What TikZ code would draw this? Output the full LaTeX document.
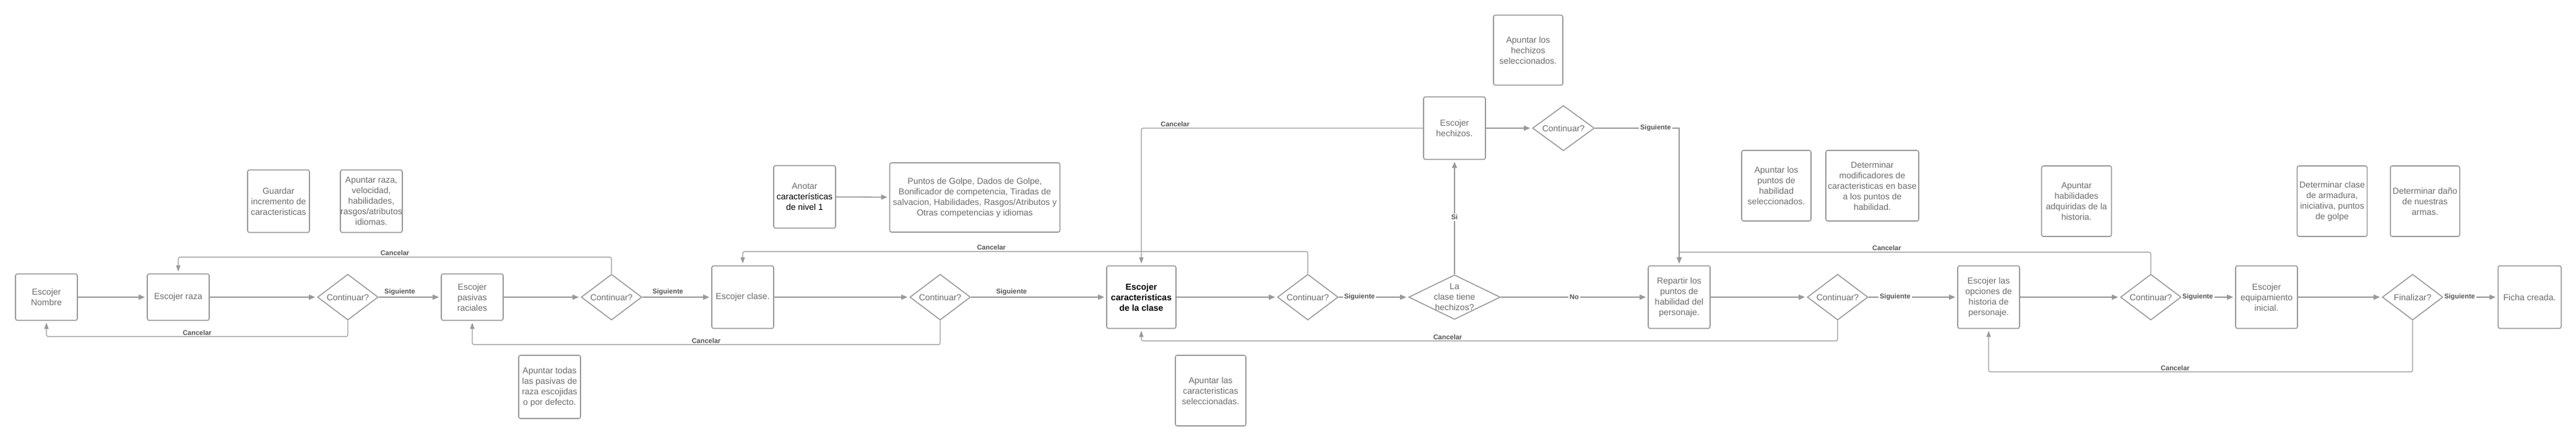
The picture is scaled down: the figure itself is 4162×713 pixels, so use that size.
\documentclass[tikz,border=0pt]{standalone}
\usepackage{fontspec}
\setmainfont{Liberation Sans}
\usepackage{xcolor}
\definecolor{mygray}{rgb}{0.6,0.6,0.6}
\definecolor{mytext}{rgb}{0.42,0.42,0.42}
\definecolor{mylabel}{rgb}{0.33,0.33,0.33}
\usetikzlibrary{shapes.geometric,arrows.meta,positioning}

\begin{document}
\begin{tikzpicture}[x=1pt,y=-1pt,
        caja/.style={draw=mygray,line width=1.6pt,rounded corners=3pt,inner sep=0pt,align=center,text=mytext,font=\fontsize{14}{17}\selectfont,minimum width=100pt,minimum height=101pt},
        rombo/.style={diamond,aspect=1.4,draw=mygray,line width=1.6pt,inner sep=0pt,align=center,text=mytext,font=\fontsize{14}{17}\selectfont,minimum width=98pt,minimum height=74pt},
        flecha/.style={draw=mygray,line width=1.8pt,-{Triangle[length=10pt,width=8pt]},shorten >=3pt},
        cancelar/.style={draw=mygray,line width=1.2pt,rounded corners=3pt,-{Triangle[length=10pt,width=7pt]},shorten >=3pt},
        etiq/.style={font=\bfseries\fontsize{11}{13}\selectfont,text=mylabel,inner sep=2pt}]
    \useasboundingbox (0,0) rectangle (4162,713);

    \node[caja,minimum height=75pt] (nombre) at (75,480) {Escojer\\Nombre};
    \node[caja,minimum height=75pt] (raza) at (288,480) {Escojer raza};
    \node[rombo] (d1) at (562,480) {Continuar?};
    \node[caja,minimum height=75pt] (pasivas) at (763,480) {Escojer\\pasivas\\raciales};
    \node[rombo] (d2) at (988,480) {Continuar?};
    \node[caja] (clase) at (1200,480) {Escojer clase.};
    \node[rombo] (d3) at (1519,480) {Continuar?};
    \node[caja,minimum width=112pt,text=black,font=\bfseries\fontsize{14}{17}\selectfont] (caract) at (1844,480) {Escojer\\caracteristicas\\de la clase};
    \node[rombo] (d4) at (2113,480) {Continuar?};
    \node[rombo,aspect=2,inner sep=-10pt,minimum width=148pt,minimum height=72pt] (d5) at (2350,480) {La\\clase tiene\\hechizos?};
    \node[caja] (hechizos) at (2350,207) {Escojer\\hechizos.};
    \node[rombo,minimum width=100pt,minimum height=73pt] (d6) at (2526,207) {Continuar?};
    \node[caja] (repartir) at (2713,480) {Repartir los\\puntos de\\habilidad del\\personaje.};
    \node[rombo] (d7) at (2969,480) {Continuar?};
    \node[caja] (historia) at (3213,480) {Escojer las\\opciones de\\historia de\\personaje.};
    \node[rombo] (d8) at (3475,480) {Continuar?};
    \node[caja] (equipo) at (3662,480) {Escojer\\equipamiento\\inicial.};
    \node[rombo] (fin) at (3898,480) {Finalizar?};
    \node[caja,minimum width=102pt] (ficha) at (4087,480) {Ficha creada.};

    \node[caja] (guardar) at (450,325) {Guardar\\incremento de\\caracteristicas};
    \node[caja] (apraza) at (600,325) {Apuntar raza,\\velocidad,\\habilidades,\\rasgos/atributos\\idiomas.};
    \node[caja,minimum height=102pt] (aptodas) at (888,625) {Apuntar todas\\las pasivas de\\raza escojidas\\o por defecto.};
    \node[caja] (anotar) at (1300,318) {Anotar\\\textcolor{black}{características}\\\textcolor{black}{de nivel 1}};
    \node[caja,minimum width=275pt,minimum height=112pt] (puntos) at (1575,319) {Puntos de Golpe, Dados de Golpe,\\Bonificador de competencia, Tiradas de\\salvacion, Habilidades, Rasgos/Atributos y\\Otras competencias y idiomas};
    \node[caja,minimum width=114pt,minimum height=114pt] (apcaract) at (1956,631) {Apuntar las\\caracteristicas\\seleccionadas.};
    \node[caja,minimum width=112pt,minimum height=113pt] (aphechizos) at (2469,81) {Apuntar los\\hechizos\\seleccionados.};
    \node[caja,minimum width=112pt,minimum height=114pt] (appuntos) at (2870,300) {Apuntar los\\puntos de\\habilidad\\seleccionados.};
    \node[caja,minimum width=150pt,minimum height=114pt] (modif) at (3025,300) {Determinar\\modificadores de\\caracteristicas en base\\a los puntos de\\habilidad.};
    \node[caja,minimum width=113pt,minimum height=114pt] (aphabil) at (3355,325) {Apuntar\\habilidades\\adquiridas de la\\historia.};
    \node[caja,minimum width=113pt,minimum height=114pt] (armadura) at (3768,325) {Determinar clase\\de armadura,\\iniciativa, puntos\\de golpe};
    \node[caja,minimum width=112pt,minimum height=114pt] (dano) at (3918,325) {Determinar daño\\de nuestras\\armas.};

    \draw[flecha] (nombre) -- (raza);
    \draw[flecha] (raza) -- (d1);
    \draw[flecha] (d1) -- node[etiq,above,pos=.34]{Siguiente} (pasivas);
    \draw[flecha] (pasivas) -- (d2);
    \draw[flecha] (d2) -- node[etiq,above,pos=.37]{Siguiente} (clase);
    \draw[flecha] (clase) -- (d3);
    \draw[flecha] (d3) -- node[etiq,above,pos=.3]{Siguiente} (caract);
    \draw[flecha] (caract) -- (d4);
    \draw[flecha] (d4) -- node[etiq,fill=white,pos=.3]{Siguiente} (d5);
    \draw[flecha] (d5) -- node[etiq,fill=white]{Si} (hechizos);
    \draw[flecha] (d5) -- node[etiq,fill=white]{No} (repartir);
    \draw[flecha] (hechizos) -- (d6);
    \draw[flecha] (d6) -| node[etiq,fill=white,pos=.36]{Siguiente} (repartir.north);
    \draw[flecha] (repartir) -- (d7);
    \draw[flecha] (d7) -- node[etiq,fill=white,pos=.3]{Siguiente} (historia);
    \draw[flecha] (historia) -- (d8);
    \draw[flecha] (d8) -- node[etiq,fill=white,pos=.3]{Siguiente} (equipo);
    \draw[flecha] (equipo) -- (fin);
    \draw[flecha] (fin) -- node[etiq,fill=white,pos=.3]{Siguiente} (ficha);
    \draw[flecha] (anotar) -- (puntos);

    \draw[cancelar] (d1.south) -- ++(0,26) -| node[etiq,above,pos=.25]{Cancelar} (nombre.south);
    \draw[cancelar] (d2.north) -- ++(0,-27) -| node[etiq,above,pos=.25]{Cancelar} (raza.north);
    \draw[cancelar] (d3.south) -- ++(0,39) -| node[etiq,above,pos=.25]{Cancelar} (pasivas.south);
    \draw[cancelar] (d4.north) -- ++(0,-36) -| node[etiq,above,pos=.28]{Cancelar} (clase.north);
    \draw[cancelar] (hechizos.west) -| node[etiq,above,pos=.44]{Cancelar} (caract.north);
    \draw[cancelar] (d7.south) -- ++(0,33) -| node[etiq,above,pos=.28]{Cancelar} (caract.south);
    \draw[cancelar] (d8.north) -- ++(0,-35) -| node[etiq,above,pos=.28]{Cancelar} (repartir.north);
    \draw[cancelar] (fin.south) -- ++(0,83) -| node[etiq,above,pos=.28]{Cancelar} (historia.south);
\end{tikzpicture}
\end{document}
